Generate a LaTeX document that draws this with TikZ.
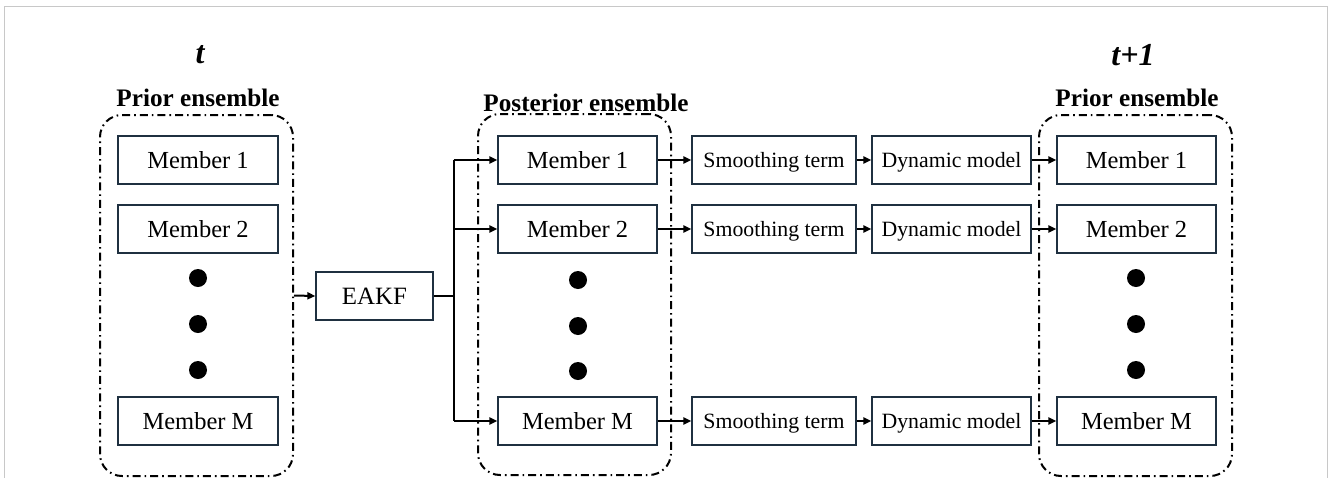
\documentclass[tikz,border=0pt]{standalone}
\usepackage{fontspec}
\setmainfont{Liberation Serif}
\usetikzlibrary{arrows.meta}
\definecolor{boxc}{HTML}{1F3040}
\definecolor{framec}{HTML}{C8C8C8}
\tikzset{
  member/.style={draw=boxc, line width=1.3pt, minimum width=159pt, minimum height=48pt,
    inner sep=0pt, text height=16.4pt, text depth=0pt,
    font=\fontsize{24.5}{28}\selectfont},
  procbox/.style={draw=boxc, line width=1.3pt, minimum height=48pt,
    inner sep=0pt, text height=14.6pt, text depth=0pt,
    font=\fontsize{21.8}{26}\selectfont},
  group/.style={draw=black, line width=2pt, rounded corners=22pt,
    dash pattern=on 8pt off 4pt on 1.6pt off 4pt, minimum width=193pt,
    minimum height=361pt, inner sep=0pt},
  grouptitle/.style={font=\fontsize{25.2}{30}\selectfont\bfseries, inner sep=0pt},
  timelabel/.style={font=\fontsize{32}{36}\selectfont\bfseries\itshape, inner sep=0pt},
  dot/.style={circle, fill=black, minimum size=18pt, inner sep=0pt},
  arr/.style={line width=2pt, -{Triangle[length=8pt,width=7pt]}},
  link/.style={line width=2pt}
}
\begin{document}
\begin{tikzpicture}[x=1pt,y=-1pt]
\useasboundingbox (0,0) rectangle (1328,477);
% outer frame
\draw[framec, line width=1pt] (4,480) -- (4,6) -- (1327,6) -- (1327,480);

% ensemble groups
\node[group] (gA) at (196.5,295.5) {};
\node[group] (gB) at (574.5,294.5) {};
\node[group] (gC) at (1135.5,295.5) {};

% time labels and group titles
\node[timelabel] (tA) at (200,55) {t};
\node[timelabel] (tC) at (1133,55) {t+1};
\node[grouptitle] (hA) at (198,98) {Prior ensemble};
\node[grouptitle] (hB) at (586,103) {Posterior ensemble};
\node[grouptitle] (hC) at (1137,98) {Prior ensemble};

% prior ensemble at t
\node[member, minimum width=160pt] (a1) at (198,160) {Member 1};
\node[member, minimum width=160pt] (a2) at (198,229) {Member 2};
\node[dot] (ad1) at (198,278) {};
\node[dot] (ad2) at (198,324) {};
\node[dot] (ad3) at (198,370) {};
\node[member, minimum width=160pt] (aM) at (198,421) {Member M};

% filter
\node[procbox, minimum width=117pt, text height=16.4pt, font=\fontsize{24.9}{28}\selectfont] (eakf) at (374.5,296) {EAKF};

% posterior ensemble
\node[member] (p1) at (577.5,160) {Member 1};
\node[member] (p2) at (577.5,229) {Member 2};
\node[dot] (pd1) at (578,280) {};
\node[dot] (pd2) at (578,326) {};
\node[dot] (pd3) at (578,371) {};
\node[member] (pM) at (577.5,421) {Member M};

% smoothing and model steps
\node[procbox, minimum width=164pt] (s1) at (774,160) {Smoothing term};
\node[procbox, minimum width=164pt] (s2) at (774,229) {Smoothing term};
\node[procbox, minimum width=164pt] (sM) at (774,421) {Smoothing term};
\node[procbox, minimum width=159pt] (d1) at (951.5,160) {Dynamic model};
\node[procbox, minimum width=159pt] (d2) at (951.5,229) {Dynamic model};
\node[procbox, minimum width=159pt] (dM) at (951.5,421) {Dynamic model};

% prior ensemble at t+1
\node[member] (c1) at (1136.5,160) {Member 1};
\node[member] (c2) at (1136.5,229) {Member 2};
\node[dot] (cd1) at (1136,278) {};
\node[dot] (cd2) at (1136,324) {};
\node[dot] (cd3) at (1136,370) {};
\node[member] (cM) at (1136.5,421) {Member M};

% connectors
\draw[arr] (gA.east) -- (eakf.west);
\draw[link] (eakf.east) -- ++(20,0) coordinate (br);
\draw[link] (br |- p1.west) -- (br |- pM.west);
\draw[arr] (br |- p1.west) -- (p1.west);
\draw[arr] (br |- p2.west) -- (p2.west);
\draw[arr] (br |- pM.west) -- (pM.west);
\foreach \r in {1,2,M}{
  \draw[arr] (p\r.east) -- (s\r.west);
  \draw[arr] (s\r.east) -- (d\r.west);
  \draw[arr] (d\r.east) -- (c\r.west);
}
\end{tikzpicture}
\end{document}
